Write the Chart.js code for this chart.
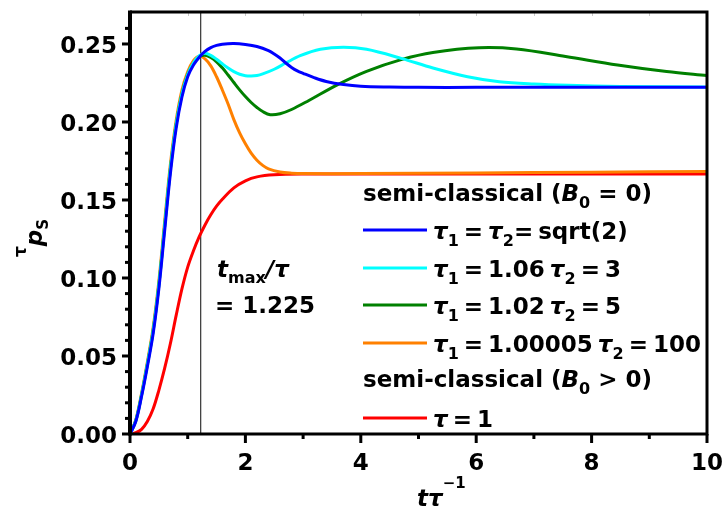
<!DOCTYPE html>
<html><head><meta charset="utf-8">
<script src="https://cdn.jsdelivr.net/npm/chart.js@4.4.0/dist/chart.umd.min.js"></script>
<style>html,body{margin:0;padding:0;background:#fff;}#wrap{width:722px;height:508px;position:relative}</style>
</head><body><div id="wrap"><canvas id="c" width="722" height="508"></canvas></div>
<script>
// ---------- data ----------
const tMax = 1.225;
const xTicks = [0, 2, 4, 6, 8, 10];
const xMinor = [1, 3, 5, 7, 9];
const yTicks = [0, 0.05, 0.10, 0.15, 0.20, 0.25];

const blueX = [0,0.1,0.2,0.3,0.4,0.5,0.6,0.7,0.8,0.9,1.0,1.1,1.2,1.3,1.4,1.5,1.6,1.8,2.0,2.2,2.4,2.5,2.6,2.7,2.8,2.9,3.0,3.2,3.4,3.7,4.0,4.5,5,6,7,8,9,10];
const blueY = [0,0.008,0.024,0.043,0.064,0.093,0.130,0.167,0.196,0.216,0.2290,0.2365,0.2415,0.2452,0.2477,0.2491,0.2499,0.2503,0.2497,0.2484,0.2458,0.2436,0.2410,0.2378,0.2350,0.2328,0.2312,0.2283,0.2260,0.2240,0.2229,0.2224,0.2222,0.2222,0.2222,0.2222,0.2222,0.2222];

const cyanX = [0,0.1,0.2,0.3,0.4,0.5,0.6,0.7,0.8,0.9,1.0,1.1,1.2,1.3,1.4,1.5,1.6,1.7,1.8,1.9,2.0,2.1,2.2,2.3,2.5,2.7,2.95,3.3,3.7,4.1,4.7,5.25,5.85,6.4,7.0,7.6,8.5,10];
const cyanY = [0,0.0085,0.025,0.0445,0.066,0.0955,0.133,0.170,0.1985,0.218,0.2305,0.238,0.2425,0.2440,0.2427,0.2402,0.2373,0.2346,0.2323,0.2306,0.2297,0.2295,0.2298,0.2308,0.2338,0.2378,0.2425,0.2466,0.2479,0.2466,0.2408,0.2346,0.2290,0.2258,0.2243,0.2235,0.2228,0.2224];

const greenX = [0,0.1,0.2,0.3,0.4,0.5,0.6,0.7,0.8,0.9,1.0,1.1,1.2,1.3,1.4,1.5,1.6,1.7,1.8,1.9,2.0,2.1,2.2,2.3,2.43,2.6,2.8,3.1,3.6,4.1,4.7,5.25,6.05,6.7,7.55,8.45,9.3,10];
const greenY = [0,0.0085,0.025,0.0445,0.066,0.0955,0.133,0.170,0.1985,0.218,0.2305,0.2376,0.2418,0.2428,0.2413,0.2386,0.2347,0.2301,0.2253,0.2206,0.2163,0.2125,0.2093,0.2067,0.2047,0.2053,0.2080,0.2138,0.2240,0.2325,0.2400,0.2446,0.2476,0.2468,0.2420,0.2365,0.2323,0.2298];

const orangeX = [0,0.1,0.2,0.3,0.4,0.5,0.6,0.7,0.8,0.9,1.0,1.1,1.2,1.3,1.4,1.5,1.6,1.7,1.8,1.9,2.0,2.1,2.2,2.3,2.4,2.6,2.8,3.0,4,6,8,10];
const orangeY = [0,0.009,0.026,0.046,0.068,0.098,0.136,0.173,0.201,0.2205,0.2322,0.2393,0.2422,0.2405,0.2360,0.2290,0.2205,0.2115,0.2015,0.1930,0.1860,0.1800,0.1755,0.1722,0.1700,0.1680,0.1672,0.1669,0.1669,0.1673,0.1678,0.1683];

const redX = [0,0.1,0.2,0.3,0.4,0.5,0.6,0.7,0.8,0.9,1.0,1.1,1.2,1.3,1.4,1.5,1.6,1.8,2.0,2.2,2.5,3.0,4,6,8,10];
const redY = [0,0.0008,0.003,0.008,0.016,0.028,0.042,0.058,0.0760,0.0930,0.1070,0.1175,0.1265,0.1340,0.1405,0.1460,0.1505,0.1578,0.1623,0.1648,0.1661,0.1666,0.1667,0.1667,0.1667,0.1667];

const header1 = 'semi-classical (B_0 = 0)';
const header2 = 'semi-classical (B_0 > 0)';
const labels = ['τ_1 = τ_2= sqrt(2)', 'τ_1 = 1.06 τ_2 = 3', 'τ_1 = 1.02 τ_2 = 5', 'τ_1 = 1.00005 τ_2 = 100', 'τ = 1'];
const colors = ['#0000ff', '#00ffff', '#008000', '#ff8000', '#ff0000'];
const xTitle = 'tτ^{−1}';
const yTitle = '^τp_S';
const annot1 = 't_{max}/τ';
const annot2 = '= ' + tMax.toFixed(3);

// ---------- rendering ----------
const FAM = '"DejaVu Sans"';
const tickFont = {family: 'DejaVu Sans', size: 23, weight: 'bold'};

function drawRich(ctx, str, x, y, o) {
  let i = 0;
  while (i < str.length) {
    let ch = str[i], mode = 'n', txt;
    if (ch === '_' || ch === '^') {
      mode = ch === '_' ? 'sub' : 'sup';
      i++;
      if (str[i] === '{') { const j = str.indexOf('}', i); txt = str.slice(i + 1, j); i = j + 1; }
      else { txt = str[i]; i++; }
    } else { txt = ch; i++; }
    if (mode === 'n' && txt === ' ' && o.space != null) { x += o.space; continue; }
    const it = (mode === 'n' && o.italics.includes(txt)) ? 'italic ' : '';
    const sz = mode === 'n' ? o.size : (mode === 'sub' ? o.subSize : o.supSize);
    ctx.font = `${it}bold ${sz}px ${FAM}`;
    const dy = mode === 'sub' ? o.subDy : (mode === 'sup' ? o.supDy : 0);
    ctx.fillText(txt, x, y + dy);
    x += ctx.measureText(txt).width;
  }
  return x;
}

function mk(xs, ys, i) {
  return {
    data: xs.map((x, k) => ({x, y: ys[k]})),
    borderColor: colors[i], backgroundColor: colors[i],
    borderWidth: 3, pointRadius: 0, showLine: true, fill: false,
    tension: 0.35, order: i
  };
}

const deco = {
  id: 'deco',
  beforeDatasetsDraw(chart) {
    const ctx = chart.ctx, a = chart.chartArea, xs = chart.scales.x;
    ctx.save();
    const px = xs.getPixelForValue(tMax);
    ctx.strokeStyle = '#333'; ctx.lineWidth = 1.2;
    ctx.beginPath(); ctx.moveTo(px, a.top); ctx.lineTo(px, a.bottom); ctx.stroke();
    ctx.restore();
  },
  afterDatasetsDraw(chart) {
    const ctx = chart.ctx, a = chart.chartArea, xs = chart.scales.x, ys = chart.scales.y;
    ctx.save();
    ctx.strokeStyle = '#c8c8c8'; ctx.lineWidth = 1;
    for (let v = 1; v < 10; v++) {
      const p = Math.round(xs.getPixelForValue(v)) + 0.5;
      ctx.beginPath(); ctx.moveTo(p, a.top); ctx.lineTo(p, a.top + 4); ctx.stroke();
    }
    ctx.strokeStyle = '#000'; ctx.lineCap = 'butt';
    ctx.lineWidth = 3;
    ctx.beginPath(); ctx.moveTo(a.left, a.top); ctx.lineTo(a.right, a.top); ctx.lineTo(a.right, a.bottom); ctx.lineTo(a.left, a.bottom); ctx.stroke();
    ctx.lineWidth = 4;
    ctx.beginPath(); ctx.moveTo(a.left, a.top - 1.5); ctx.lineTo(a.left, a.bottom + 1.5); ctx.stroke();
    ctx.lineWidth = 3;
    for (let k = 0; k <= 27; k++) {
      const v = k / 100;
      const p = ys.getPixelForValue(v);
      if (p < a.top + 2) continue;
      const major = k % 5 === 0;
      ctx.beginPath(); ctx.moveTo(a.left - (major ? 8 : 5), p); ctx.lineTo(a.left, p); ctx.stroke();
    }
    xTicks.forEach(v => { const p = xs.getPixelForValue(v); ctx.beginPath(); ctx.moveTo(p, a.bottom); ctx.lineTo(p, a.bottom + 9); ctx.stroke(); });
    xMinor.forEach(v => { const p = xs.getPixelForValue(v); ctx.beginPath(); ctx.moveTo(p, a.bottom); ctx.lineTo(p, a.bottom + 5); ctx.stroke(); });
    ctx.restore();
  },
  afterDraw(chart) {
    const ctx = chart.ctx;
    ctx.save();
    ctx.fillStyle = '#000'; ctx.textBaseline = 'alphabetic'; ctx.textAlign = 'left';
    const lx = 363, tx = 433;
    const hOpt = {size: 23, subSize: 16, supSize: 16, subDy: 7, supDy: -10, italics: 'B'};
    const eOpt = {size: 23, subSize: 16, supSize: 16, subDy: 7, supDy: -10, italics: 'τ', space: 5};
    drawRich(ctx, header1, lx, 201, hOpt);
    const rowY = [230, 268, 305, 343, 418];
    rowY.forEach((y, i) => {
      ctx.strokeStyle = colors[i]; ctx.lineWidth = 3;
      ctx.beginPath(); ctx.moveTo(lx, y); ctx.lineTo(427, y); ctx.stroke();
      drawRich(ctx, labels[i], tx, y + 9, eOpt);
    });
    drawRich(ctx, header2, lx, 387, hOpt);
    drawRich(ctx, annot1, 217, 277, {size: 23, subSize: 16, supSize: 16, subDy: 6, supDy: -10, italics: 't/τ'});
    drawRich(ctx, annot2, 215, 313, {size: 23, subSize: 16, supSize: 16, subDy: 6, supDy: -10, italics: ''});
    drawRich(ctx, xTitle, 417, 506, {size: 23, subSize: 16, supSize: 15, subDy: 6, supDy: -18, italics: 'tτ'});
    ctx.translate(42, 257);
    ctx.rotate(-Math.PI / 2);
    drawRich(ctx, yTitle, 0, 0, {size: 23, subSize: 15, supSize: 17, subDy: 6, supDy: -16, italics: 'p'});
    ctx.restore();
  }
};

new Chart(document.getElementById('c'), {
  type: 'scatter',
  data: {datasets: [
    mk(blueX, blueY, 0), mk(cyanX, cyanY, 1), mk(greenX, greenY, 2), mk(orangeX, orangeY, 3), mk(redX, redY, 4)
  ]},
  options: {
    responsive: false, animation: false, devicePixelRatio: 1,
    layout: {padding: {top: 12, right: 15, left: 0, bottom: 0}},
    plugins: {legend: {display: false}, tooltip: {enabled: false}},
    scales: {
      x: {
        type: 'linear', min: 0, max: 10,
        grid: {display: false, drawTicks: false}, border: {display: false},
        ticks: {font: tickFont, color: '#000', padding: 16, maxRotation: 0, callback: v => String(v)},
        afterBuildTicks: s => { s.ticks = xTicks.map(v => ({value: v})); },
        afterFit: s => { s.height = 74; s.paddingLeft = 0; s.paddingRight = 0; }
      },
      y: {
        type: 'linear', min: 0, max: 0.2705,
        grid: {display: false, drawTicks: false}, border: {display: false},
        ticks: {font: tickFont, color: '#000', padding: 13, labelOffset: 3, callback: v => v.toFixed(2)},
        afterBuildTicks: s => { s.ticks = yTicks.map(v => ({value: v})); },
        afterFit: s => { s.width = 130; s.paddingTop = 0; s.paddingBottom = 0; }
      }
    }
  },
  plugins: [deco]
});
</script></body></html>
